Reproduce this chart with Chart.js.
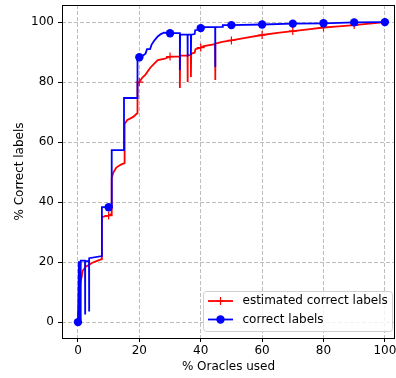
<!DOCTYPE html>
<html>
<head>
<meta charset="utf-8">
<script src="https://cdn.jsdelivr.net/npm/chart.js@4.4.0/dist/chart.umd.min.js"></script>
<style>
  html, body { margin: 0; padding: 0; background: #fff; }
  #wrap { width: 396px; height: 378px; }
</style>
</head>
<body>
<div id="wrap"><canvas id="chart"></canvas></div>
<script>
// ticks y marcadores (cada 10 %)
const xTicks = [0, 20, 40, 60, 80, 100];
const yTicks = [0, 20, 40, 60, 80, 100];
const markAt = [0, 10, 20, 30, 40, 50, 60, 70, 80, 90, 100];

// estimated correct labels (rojo)
const estX = [0, 0.8, 1.2, 1.5, 2.5, 3.5, 4.5, 6, 7.8, 7.8, 9, 10, 10.8, 11, 11, 11.5, 12.5, 14, 15.2, 15.2, 16, 18, 19.4, 19.4,
  20, 21, 22, 23.5, 25, 26, 28, 30, 33.2, 33.2, 33.3, 35.7, 35.7, 35.8, 36.8, 36.8, 36.9, 38, 38.3,
  40, 41, 44.7, 44.7, 44.8, 47, 50, 55, 60, 65, 70, 75, 80, 85, 90, 95, 100];
const estY = [0, 13, 15, 17, 18.5, 19, 19.7, 20.3, 21, 35, 35.3, 35.5, 36, 36.5, 48, 49.8, 51.5, 52.5, 53, 66, 67.3, 68.4, 69.7, 79.5,
  80, 81.5, 82.5, 84.7, 86.3, 87.3, 87.7, 88.5, 88.5, 78, 88.8, 88.8, 80, 89, 89, 81.7, 89.5, 89.8, 91,
  91.5, 92, 92.7, 80.7, 92.8, 93.4, 93.9, 94.8, 95.7, 96.4, 97, 97.6, 98.2, 98.6, 99, 99.5, 100];

// correct labels (azul)
const corX = [0, 0.3, 0.6, 0.6, 0.9, 0.9, 2.3, 2.3, 2.4, 3.6, 3.6, 3.7, 7.8, 7.8, 10, 11, 11, 15, 15, 19.4, 19.4,
  20, 21, 22, 22.5, 23.5, 24, 25, 26, 27, 28, 30, 33.2, 33.2, 33.3, 35.7, 35.7, 35.8, 36.8, 36.8, 36.9, 38, 38.2, 39.5,
  40, 40.5, 44.7, 44.7, 44.8, 47, 47.2, 50, 60, 70, 80, 90, 100];
const corY = [0, 20, 20, 1, 1, 20.5, 20.5, 2.5, 20.3, 20.3, 3.5, 21.3, 22, 38.3, 38.3, 38.3, 57.3, 57.3, 74.7, 74.7, 88.3,
  88.3, 88.7, 89.5, 91, 91, 92.5, 94, 95.2, 96, 96.5, 96.3, 96.3, 84, 95.8, 95.8, 88.5, 95.8, 95.8, 89, 95.8, 96, 97.3, 97.5,
  98, 98.3, 98.3, 85, 98.3, 98.4, 99, 99, 99.2, 99.5, 99.6, 99.9, 100];

const toPts = (xs, ys) => xs.map((x, i) => ({ x: x, y: ys[i] }));
const isMark = ctx => ctx.raw && markAt.includes(ctx.raw.x);

const FONT = 'DejaVu Sans';

// marco negro alrededor del área del gráfico
const framePlugin = {
  id: 'frame',
  afterDatasetsDraw(chart) {
    const { ctx, chartArea: a } = chart;
    ctx.save();
    ctx.setLineDash([]);
    ctx.strokeStyle = '#000';
    ctx.lineWidth = 1;
    ctx.strokeRect(Math.round(a.left) + 0.5, Math.round(a.top) + 0.5,
      Math.round(a.right - a.left) - 1, Math.round(a.bottom - a.top));
    ctx.restore();
  }
};

// leyenda estilo matplotlib (línea + marcador)
const legendPlugin = {
  id: 'mplLegend',
  afterDraw(chart) {
    const { ctx } = chart;
    const bx = 203.5, by = 291.5, bw = 189, bh = 40;
    ctx.save();
    ctx.setLineDash([]);
    ctx.beginPath();
    ctx.roundRect(bx, by, bw, bh, 3);
    ctx.fillStyle = 'rgba(255,255,255,0.8)';
    ctx.fill();
    ctx.strokeStyle = '#d0d0d0';
    ctx.lineWidth = 1;
    ctx.stroke();

    const rows = [301, 319.5];
    chart.data.datasets.forEach((ds, i) => {
      const y = rows[i];
      ctx.strokeStyle = ds.borderColor;
      ctx.lineWidth = 1.8;
      ctx.beginPath();
      ctx.moveTo(208, y);
      ctx.lineTo(233, y);
      ctx.stroke();
      if (ds.pointStyle === 'cross') {
        ctx.lineWidth = 1.2;
        ctx.beginPath();
        ctx.moveTo(220.5 - 4, y); ctx.lineTo(220.5 + 4, y);
        ctx.moveTo(220.5, y - 4); ctx.lineTo(220.5, y + 4);
        ctx.stroke();
      } else {
        ctx.fillStyle = ds.borderColor;
        ctx.beginPath();
        ctx.arc(220.5, y, 4.2, 0, Math.PI * 2);
        ctx.fill();
      }
      ctx.fillStyle = '#000';
      ctx.font = '12px "' + FONT + '"';
      ctx.textBaseline = 'middle';
      ctx.fillText(ds.label, 242.5, y);
    });
    ctx.restore();
  }
};

new Chart(document.getElementById('chart'), {
  type: 'scatter',
  data: {
    datasets: [
      {
        label: 'estimated correct labels', data: toPts(estX, estY),
        showLine: true, borderColor: '#ff0000', backgroundColor: '#ff0000',
        borderWidth: 1.8, pointStyle: 'cross',
        pointRadius: ctx => isMark(ctx) ? 4 : 0, pointBorderWidth: 1.2,
        order: 1
      },
      {
        label: 'correct labels', data: toPts(corX, corY),
        showLine: true, borderColor: '#0000ff', backgroundColor: '#0000ff',
        borderWidth: 1.8, pointStyle: 'circle',
        pointRadius: ctx => isMark(ctx) ? 4.2 : 0, pointBorderWidth: 0,
        order: 0
      }
    ]
  },
  options: {
    responsive: true, maintainAspectRatio: false, animation: false,
    devicePixelRatio: 1,
    layout: { autoPadding: false, padding: { top: 5, right: 1, left: 0, bottom: 0 } },
    plugins: { legend: { display: false }, tooltip: { enabled: false } },
    scales: {
      x: {
        type: 'linear', min: -5.2, max: 103.3,
        afterBuildTicks: s => { s.ticks = xTicks.map(v => ({ value: v })); },
        afterFit: s => { s.height = 40; s.paddingLeft = 0; s.paddingRight = 0; },
        grid: { color: '#bdbdbd', lineWidth: 1, tickLength: 4, tickColor: '#000', tickBorderDash: [] },
        border: { display: false, dash: [4, 2] },
        ticks: { color: '#000', padding: 2, maxRotation: 0, font: { family: FONT, size: 12 } },
        title: { display: true, text: '% Oracles used', color: '#000', padding: { top: 0, bottom: 4 }, font: { family: FONT, size: 12 } }
      },
      y: {
        type: 'linear', min: -5.3, max: 105.7,
        afterBuildTicks: s => { s.ticks = yTicks.map(v => ({ value: v })); },
        afterFit: s => { s.width = 62; s.paddingTop = 0; s.paddingBottom = 0; },
        grid: { color: '#bdbdbd', lineWidth: 1, tickLength: 4, tickColor: '#000', tickBorderDash: [] },
        border: { display: false, dash: [4, 2] },
        ticks: { color: '#000', padding: 4, font: { family: FONT, size: 12 } },
        title: { display: true, text: '% Correct labels', color: '#000', padding: { top: 13, bottom: 0 }, font: { family: FONT, size: 12 } }
      }
    }
  },
  plugins: [framePlugin, legendPlugin]
});
</script>
</body>
</html>
